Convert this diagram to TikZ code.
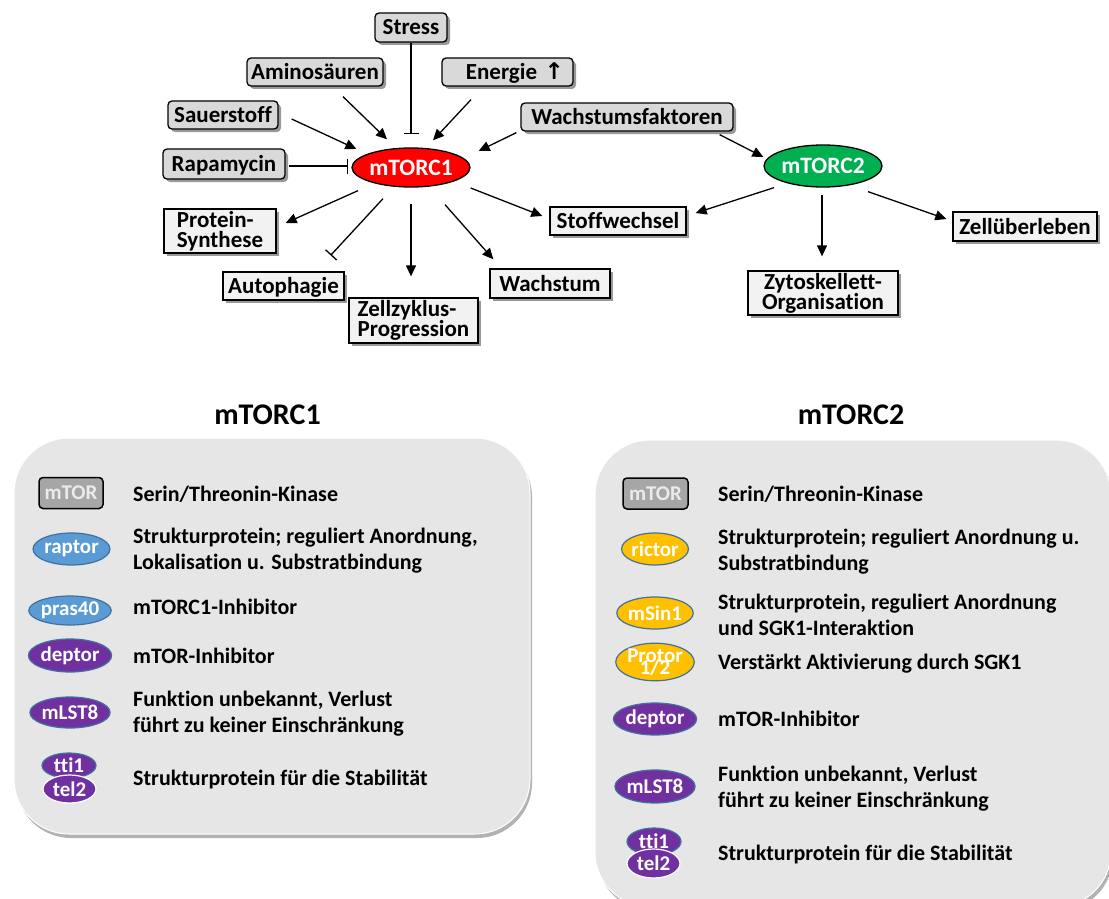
\documentclass[tikz,border=0pt]{standalone}
\usepackage{fontspec}
\setmainfont{Carlito}[Ligatures=NoCommon]
\newfontfamily\symfont{DejaVu Sans}
\usetikzlibrary{shapes.geometric,arrows.meta,shadows}
\definecolor{inboxfill}{HTML}{D9D9D9}
\definecolor{outboxfill}{HTML}{F2F2F2}
\definecolor{legfill}{HTML}{E6E6E6}
\definecolor{mtorred}{HTML}{FF0000}
\definecolor{mtorgreen}{HTML}{00B050}
\definecolor{blueprot}{HTML}{5B9BD5}
\definecolor{edgeblue}{HTML}{41719C}
\definecolor{goldprot}{HTML}{FFC000}
\definecolor{purpprot}{HTML}{7030A0}
\definecolor{mtorgray}{HTML}{A6A6A6}
\newcommand{\tightlines}{\lineskiplimit=-30pt\relax}
\begin{document}
\begin{tikzpicture}[x=1pt,y=-1pt,
  shad/.style={drop shadow={shadow xshift=3pt,shadow yshift=-3pt,opacity=0.4,fill=black}},
  bigfont/.style={font=\fontsize{23}{20}\selectfont\bfseries},
  inbox/.style={draw,line width=1.3pt,rounded corners=4pt,fill=inboxfill,shad,inner sep=0pt,bigfont,text height=15pt,text depth=0pt},
  outbox/.style={draw,line width=1.3pt,fill=outboxfill,shad,inner sep=0pt,bigfont},
  onebox/.style={outbox,text height=15pt,text depth=0pt},
  complex/.style={ellipse,draw,line width=1.3pt,text=white,inner sep=0pt,minimum width=102pt,font=\fontsize{23.5}{20}\selectfont\bfseries,text height=15pt,text depth=0pt},
  arr/.style={line width=1.3pt,-{Triangle[length=11pt,width=10pt]}},
  inh/.style={line width=1.3pt,-{Bar[width=15pt,line width=1.3pt]}},
  legbox/.style={draw=white,line width=1pt,fill=legfill,rounded corners=55pt,drop shadow={shadow xshift=2pt,shadow yshift=-4pt,opacity=0.3,fill=black}},
  ltitle/.style={font=\fontsize{30}{30}\selectfont\bfseries,inner sep=0pt},
  ltext/.style={anchor=base west,inner sep=0pt,align=left,font=\fontsize{22}{26}\selectfont\bfseries},
  prot/.style={ellipse,draw=edgeblue,line width=1.2pt,text=white,inner sep=0pt,minimum width=66pt,minimum height=32pt,font=\fontsize{21}{14}\selectfont\bfseries},
  mtorbox/.style={draw,line width=1.5pt,rounded corners=4pt,fill=mtorgray,text=black!8,inner sep=0pt,minimum width=64pt,minimum height=31pt,font=\fontsize{21}{14}\selectfont\bfseries}
]
\fill[white] (0,0) rectangle (1109,899);
\useasboundingbox (0,0) rectangle (1109,899);

% ---------- upper diagram ----------
\node[inbox,minimum width=72pt,minimum height=29pt] (st) at (411,27.5) {Stress};
\node[inbox,minimum width=136pt,minimum height=28pt] (am) at (315,72) {Aminosäuren};
\node[inbox,text width=113pt,inner xsep=9pt,align=right,minimum height=28pt] (en) at (507.5,72) {Energie {\symfont\bfseries ↑}};
\node[inbox,minimum width=110pt,minimum height=28pt] (sa) at (223,115) {Sauerstoff};
\node[inbox,minimum width=212pt,minimum height=28pt] (wf) at (627,117) {Wachstumsfaktoren};
\node[inbox,minimum width=122pt,minimum height=30pt] (ra) at (224,164) {Rapamycin};

\node[complex,fill=mtorred,minimum height=39pt] (m1) at (411,167.5) {mTORC1};
\node[complex,fill=mtorgreen,minimum height=42pt] (m2) at (823,166) {mTORC2};

\node[outbox,align=left,minimum width=112pt,minimum height=44pt] (ps) at (220,231) {Protein-\\Synthese};
\node[onebox,minimum width=121pt,minimum height=28pt] (ap) at (283.5,286) {Autophagie};
\node[outbox,align=left,minimum width=129pt,minimum height=45pt] (zz) at (413.5,320.5) {Zellzyklus-\\Progression};
\node[onebox,minimum width=120pt,minimum height=29pt] (wa) at (550,283.5) {Wachstum};
\node[onebox,minimum width=136pt,minimum height=28pt] (sw) at (618,221) {Stoffwechsel};
\node[onebox,minimum width=144pt,minimum height=29pt] (zu) at (1025,226.5) {Zellüberleben};
\node[outbox,align=center,minimum width=150pt,minimum height=44pt] (zy) at (823,293) {Zytoskellett-\\Organisation};

\draw[inh] (st.south) -- ([shift={(0,-13)}]m1.north);
\draw[arr] ([shift={(28,10)}]am.south) -- ([shift={(-24,-8)}]m1.north);
\draw[arr] ([shift={(-36.5,13)}]en.south) -- ([shift={(22,-7)}]m1.north);
\draw[arr] ([shift={(13,4)}]sa.east) -- ([shift={(5,-18.5)}]m1.west);
\draw[inh] ([shift={(3,2)}]ra.east) -- ([shift={(-3,-1.5)}]m1.west);
\draw[arr] ([shift={(-4,1)}]wf.south west) -- ([shift={(8,-16.5)}]m1.east);
\draw[arr] ([shift={(-14,3)}]wf.south east) -- ([shift={(0,-9)}]m2.west);
\draw[arr] ([shift={(-53,3)}]m1.south) -- ([shift={(9,-8)}]ps.east);
\draw[inh] ([shift={(-28,11)}]m1.south) -- ([shift={(-14,-16)}]ap.north east);
\draw[arr] ([shift={(0,16)}]m1.south) -- ([shift={(-2.5,-21)}]zz.north);
\draw[arr] ([shift={(34,17)}]m1.south) -- ([shift={(4,-9)}]wa.north west);
\draw[arr] ([shift={(0,20.5)}]m1.east) -- ([shift={(-7,-5)}]sw.west);
\draw[arr] ([shift={(-49,0)}]m2.south) -- ([shift={(9,-8)}]sw.east);
\draw[arr] ([shift={(-1,7)}]m2.south) -- ([shift={(-1,-14)}]zy.north);
\draw[arr] ([shift={(45,4)}]m2.south) -- ([shift={(-6,-7.5)}]zu.west);

% ---------- legends ----------
\node[ltitle] (t1) at (267.5,415) {mTORC1};
\node[ltitle] (t2) at (851,415) {mTORC2};

\node[legbox,minimum width=516pt,minimum height=396pt] (box1) at (272,636) {};
\node[legbox,minimum width=516pt,minimum height=467pt] (box2) at (853,673.5) {};

% mTORC1 legend
\node[mtorbox] (a1) at (71,493) {mTOR};
\node[prot,fill=blueprot,minimum width=67pt] (a2) at (71.5,549) {raptor};
\node[prot,fill=blueprot,minimum height=29pt] (a3) at (70,610.5) {pras40};
\node[prot,fill=purpprot,minimum height=33pt] (a4) at (70,655.5) {deptor};
\node[prot,fill=purpprot,minimum height=31pt] (a5) at (70,712.5) {mLST8};
\node[prot,fill=purpprot,minimum width=54pt,minimum height=25pt] (a6) at (69,765.5) {tti1};
\node[prot,fill=purpprot,draw=white,minimum width=53pt,minimum height=28pt] (a7) at (69.5,789) {tel2};

\node[ltext] (d1) at (133,501) {Serin/Threonin-Kinase};
\node[ltext] (d2) at (133,569) {Strukturprotein; reguliert Anordnung,\\Lokalisation u. Substratbindung};
\node[ltext] (d3) at (133,614) {mTORC1-Inhibitor};
\node[ltext] (d4) at (133,663) {mTOR-Inhibitor};
\node[ltext] (d5) at (133,732) {Funktion unbekannt, Verlust\\führt zu keiner Einschränkung};
\node[ltext] (d6) at (133,785) {Strukturprotein für die Stabilität};

% mTORC2 legend
\node[mtorbox,minimum width=65pt] (b1) at (655.5,493.5) {mTOR};
\node[prot,fill=goldprot] (b2) at (655,549) {rictor};
\node[prot,fill=goldprot] (b3) at (655,613) {mSin1};
\node[prot,fill=goldprot,align=center,font=\fontsize{21}{12}\selectfont\bfseries\tightlines] (b4) at (655,662) {Protor\\1/2};
\node[prot,fill=purpprot] (b5) at (655,719) {deptor};
\node[prot,fill=purpprot,minimum height=33pt] (b6) at (655,786.5) {mLST8};
\node[prot,fill=purpprot,minimum width=54pt,minimum height=27pt] (b7) at (654,841.5) {tti1};
\node[prot,fill=purpprot,draw=white,minimum width=53pt,minimum height=29pt] (b8) at (653.5,863.5) {tel2};

\node[ltext] (e1) at (718,501) {Serin/Threonin-Kinase};
\node[ltext] (e2) at (718,570) {Strukturprotein; reguliert Anordnung u.\\Substratbindung};
\node[ltext] (e3) at (718,635) {Strukturprotein, reguliert Anordnung\\und SGK1-Interaktion};
\node[ltext] (e4) at (718,669) {Verstärkt Aktivierung durch SGK1};
\node[ltext] (e5) at (718,726) {mTOR-Inhibitor};
\node[ltext] (e6) at (718,807) {Funktion unbekannt, Verlust\\führt zu keiner Einschränkung};
\node[ltext] (e7) at (718,860) {Strukturprotein für die Stabilität};
\end{tikzpicture}
\end{document}
